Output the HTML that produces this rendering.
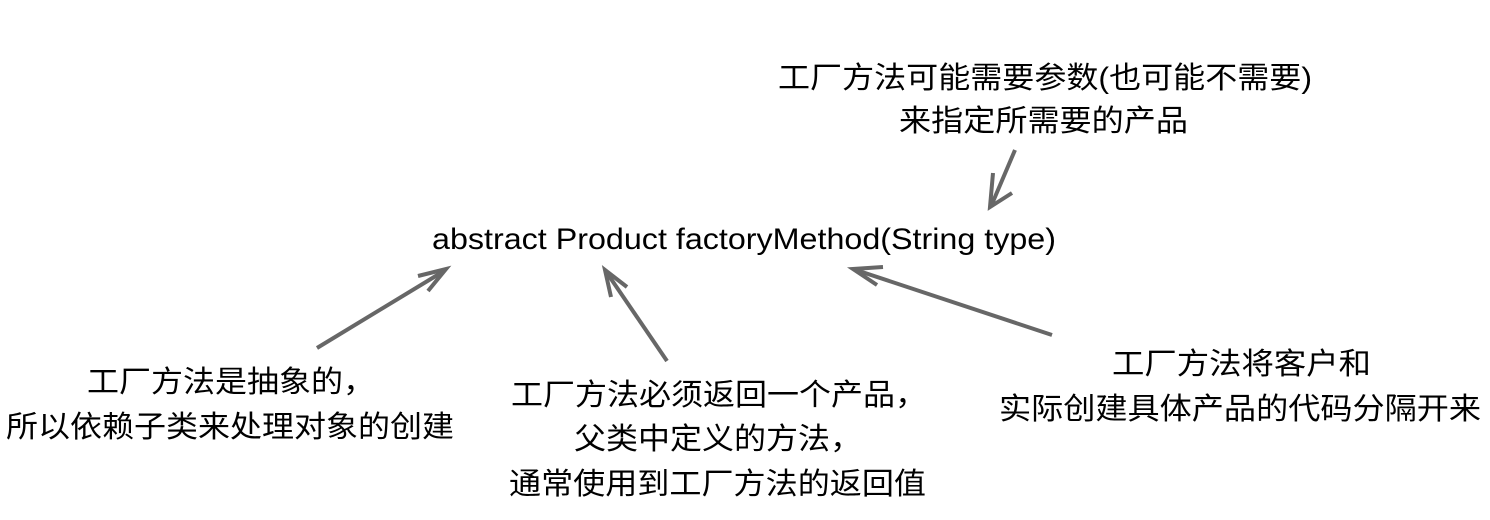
<!DOCTYPE html>
<html>
<head>
<meta charset="utf-8">
<style>
html,body{margin:0;padding:0;background:#fff;}
svg{display:block;}
.cn{font-family:"Liberation Sans","Noto Sans CJK SC",sans-serif;font-size:30px;fill:#000;}
.en{font-family:"Liberation Sans",sans-serif;font-size:30px;fill:#000;}
.ar{stroke:#676767;stroke-width:4;fill:none;stroke-linejoin:miter;}
</style>
</head>
<body>
<svg width="1490" height="520" viewBox="0 0 1490 520" xmlns="http://www.w3.org/2000/svg">
  <!-- top note -->
  <text class="cn" x="778" y="88" textLength="534" lengthAdjust="spacingAndGlyphs">工厂方法可能需要参数(也可能不需要)</text>
  <text class="cn" x="899" y="131" textLength="289" lengthAdjust="spacingAndGlyphs">来指定所需要的产品</text>

  <!-- main signature -->
  <text class="en" x="432" y="249" textLength="624" lengthAdjust="spacingAndGlyphs">abstract Product factoryMethod(String type)</text>

  <!-- left note -->
  <text class="cn" x="87" y="392" textLength="288" lengthAdjust="spacingAndGlyphs">工厂方法是抽象的，</text>
  <text class="cn" x="6" y="437" textLength="448" lengthAdjust="spacingAndGlyphs">所以依赖子类来处理对象的创建</text>

  <!-- middle note -->
  <text class="cn" x="511" y="405" textLength="416" lengthAdjust="spacingAndGlyphs">工厂方法必须返回一个产品，</text>
  <text class="cn" x="574" y="449" textLength="288" lengthAdjust="spacingAndGlyphs">父类中定义的方法，</text>
  <text class="cn" x="509" y="494" textLength="417" lengthAdjust="spacingAndGlyphs">通常使用到工厂方法的返回值</text>

  <!-- right note -->
  <text class="cn" x="1112" y="374" textLength="259" lengthAdjust="spacingAndGlyphs">工厂方法将客户和</text>
  <text class="cn" x="999" y="419" textLength="482" lengthAdjust="spacingAndGlyphs">实际创建具体产品的代码分隔开来</text>

  <!-- arrows -->
  <line class="ar" x1="317" y1="348" x2="444" y2="271"/>
  <polyline class="ar" points="418,276 446,269 428,291"/>

  <line class="ar" x1="667" y1="361" x2="607" y2="273"/>
  <polyline class="ar" points="611,297 605,270 627,287"/>

  <line class="ar" x1="1052" y1="335" x2="856" y2="270"/>
  <polyline class="ar" points="883,267 853,269 877,285"/>

  <line class="ar" x1="1015" y1="150" x2="992" y2="204"/>
  <polyline class="ar" points="993,173 990,207 1012,193"/>
</svg>
</body>
</html>
